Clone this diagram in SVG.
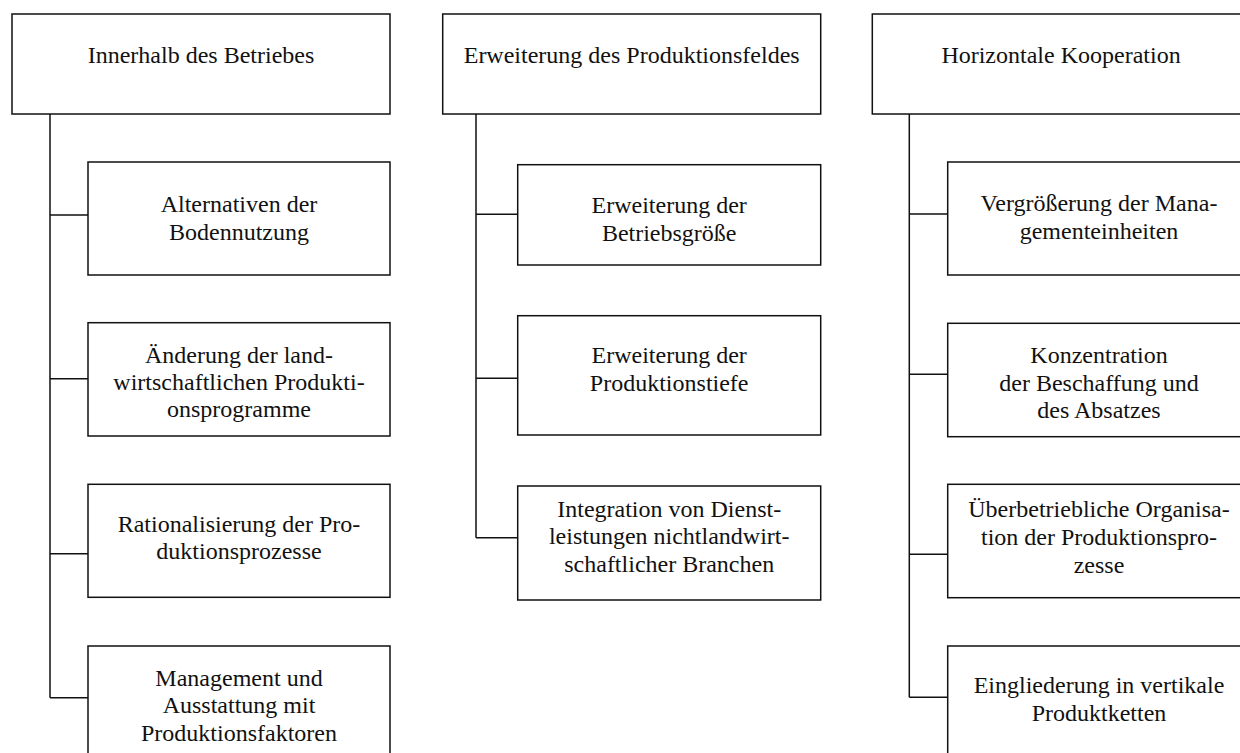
<svg xmlns="http://www.w3.org/2000/svg" width="1240" height="753" viewBox="0 0 1240 753">
<style>
.box{fill:#fff;stroke:#111;stroke-width:1.5}
.ln{fill:none;stroke:#111;stroke-width:1.5}
text{font-family:"Liberation Serif","Times New Roman",serif;font-size:24px;fill:#111;text-anchor:middle}
</style>
<rect width="1240" height="753" fill="#fff"/>
<g id="connectors">
<path class="ln" d="M50,114 V697.7 M50,215 H88 M50,378.7 H88 M50,553.7 H88 M50,697.7 H88"/>
<path class="ln" d="M476,114 V537.7 M476,214.3 H517.7 M476,378.3 H517.7 M476,537.7 H517.7"/>
<path class="ln" d="M909.3,114 V697.3 M909.3,214 H947.7 M909.3,374.3 H947.7 M909.3,554.3 H947.7 M909.3,697.3 H947.7"/>
</g>
<g id="n1">
<rect class="box" x="12" y="14" width="378" height="100"/>
<text x="201" y="63">Innerhalb des Betriebes</text>
</g>
<g id="n1a">
<rect class="box" x="88" y="162" width="302" height="113"/>
<text x="239" y="212">Alternativen der</text>
<text x="239" y="239.5">Bodennutzung</text>
</g>
<g id="n1b">
<rect class="box" x="88" y="322.7" width="302" height="113.3"/>
<text x="239" y="363">Änderung der land-</text>
<text x="239" y="390">wirtschaftlichen Produkti-</text>
<text x="239" y="417">onsprogramme</text>
</g>
<g id="n1c">
<rect class="box" x="88" y="484.3" width="302" height="113"/>
<text x="239" y="532">Rationalisierung der Pro-</text>
<text x="239" y="559">duktionsprozesse</text>
</g>
<g id="n1d">
<rect class="box" x="88" y="646" width="302" height="120"/>
<text x="239" y="686">Management und</text>
<text x="239" y="713.3">Ausstattung mit</text>
<text x="239" y="740.7">Produktionsfaktoren</text>
</g>
<g id="n2">
<rect class="box" x="442.7" y="14" width="378" height="100"/>
<text x="631.7" y="62.5">Erweiterung des Produktionsfeldes</text>
</g>
<g id="n2a">
<rect class="box" x="517.7" y="164.7" width="303" height="100.3"/>
<text x="669.2" y="213">Erweiterung der</text>
<text x="669.2" y="240.5">Betriebsgröße</text>
</g>
<g id="n2b">
<rect class="box" x="517.7" y="315.7" width="303" height="119.3"/>
<text x="669.2" y="363.3">Erweiterung der</text>
<text x="669.2" y="391">Produktionstiefe</text>
</g>
<g id="n2c">
<rect class="box" x="517.7" y="486" width="303" height="114"/>
<text x="669.2" y="516.7">Integration von Dienst-</text>
<text x="669.2" y="544">leistungen nichtlandwirt-</text>
<text x="669.2" y="571.7">schaftlicher Branchen</text>
</g>
<g id="n3">
<rect class="box" x="872.3" y="14" width="377.7" height="100"/>
<text x="1061" y="63">Horizontale Kooperation</text>
</g>
<g id="n3a">
<rect class="box" x="947.7" y="162" width="302.3" height="113"/>
<text x="1099" y="210.7">Vergrößerung der Mana-</text>
<text x="1099" y="239.3">gementeinheiten</text>
</g>
<g id="n3b">
<rect class="box" x="947.7" y="323.3" width="302.3" height="113.4"/>
<text x="1099" y="363.3">Konzentration</text>
<text x="1099" y="390.7">der Beschaffung und</text>
<text x="1099" y="417.7">des Absatzes</text>
</g>
<g id="n3c">
<rect class="box" x="947.7" y="484.3" width="302.3" height="113.4"/>
<text x="1099" y="517.3">Überbetriebliche Organisa-</text>
<text x="1099" y="545">tion der Produktionspro-</text>
<text x="1099" y="572.7">zesse</text>
</g>
<g id="n3d">
<rect class="box" x="947.7" y="646" width="302.3" height="120"/>
<text x="1099" y="693.3">Eingliederung in vertikale</text>
<text x="1099" y="721">Produktketten</text>
</g>
</svg>
